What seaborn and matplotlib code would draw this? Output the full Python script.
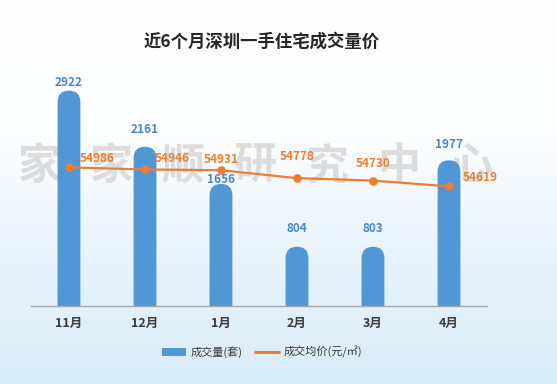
import numpy as np
import matplotlib.pyplot as plt
import seaborn as sns
from matplotlib.patches import FancyBboxPatch, Patch
from matplotlib.lines import Line2D
from matplotlib.colors import LinearSegmentedColormap

# 数据
months = ['11月', '12月', '1月', '2月', '3月', '4月']
volumes = [2922, 2161, 1656, 804, 803, 1977]
prices = [54986, 54946, 54931, 54778, 54730, 54619]

bar_color = '#5197D6'
line_color = '#ED7D31'
vol_label_color = '#4A86C4'

sns.set_theme(style='white')
plt.rcParams['font.family'] = ['Noto Sans CJK SC', 'DejaVu Sans']

fig = plt.figure(figsize=(5.57, 3.84), dpi=100)

# 背景渐变 + 水印
bg = fig.add_axes([0, 0, 1, 1], zorder=-1)
grad = np.linspace(0, 1, 256).reshape(-1, 1)
cmap_bg = LinearSegmentedColormap.from_list('bg', ['#FFFFFF', '#FDFEFF', '#E8F3FB', '#D8ECF9'])
bg.imshow(grad, aspect='auto', cmap=cmap_bg, extent=[0, 1, 0, 1], origin='upper')
bg.set_xlim(0, 1)
bg.set_ylim(0, 1)
bg.axis('off')
for i, ch in enumerate('家家顺研究中心'):
    bg.text((39 + i * 72) / 557, 1 - 166 / 384, ch, fontsize=31, color='#D5D5D5',
            ha='center', va='center', fontweight='bold', alpha=0.8)

ax = fig.add_axes([31 / 557, 78 / 384, 456 / 557, 258 / 384])
ax.patch.set_alpha(0)

sns.barplot(x=months, y=volumes, color=bar_color, width=0.3, ax=ax, saturation=1)
ax.set_ylim(0, 3500)
ax.set_xlim(-0.5, 5.5)

# 圆顶柱子
fig.canvas.draw()
bbox = ax.get_window_extent()
aspect = (bbox.width / 6) / (bbox.height / 3500)
for p in list(ax.patches):
    x0, w, h = p.get_x(), p.get_width(), p.get_height()
    ry = (w / 2) * aspect
    p.remove()
    ax.add_patch(FancyBboxPatch((x0, -ry), w, h + ry,
                                boxstyle=f'round,pad=0,rounding_size={w / 2}',
                                mutation_aspect=aspect, facecolor=bar_color,
                                edgecolor='none', zorder=2))

# 标签偏移(像素)
vol_dy = [8, 17, 4, 18, 18, 16]
for i, v in enumerate(volumes):
    ax.annotate(str(v), (i, v), xytext=(0, vol_dy[i] * 0.72), textcoords='offset points',
                ha='center', va='center', color=vol_label_color, fontsize=8.5, fontweight='bold')

ax.set_yticks([])
ax.set_ylabel('')
ax.set_xlabel('')
for s in ['top', 'right', 'left']:
    ax.spines[s].set_visible(False)
ax.spines['bottom'].set_color('#A6A6A6')
ax.spines['bottom'].set_linewidth(1)
ax.tick_params(axis='x', length=0, pad=8, labelsize=9, labelcolor='#3A3A3A')
for t in ax.get_xticklabels():
    t.set_fontweight('bold')

# 均价折线
ax2 = ax.twinx()
sns.pointplot(x=months, y=prices, color=line_color, ax=ax2, markers='o',
              markersize=5, linewidth=1.6)
ax2.set_ylim(52300, 57300)
ax2.set_xlim(-0.5, 5.5)
ax2.set_yticks([])
ax2.set_ylabel('')
for s in ax2.spines.values():
    s.set_visible(False)

price_off = [(11, 9, 'left'), (10, 11, 'left'), (0, 11, 'center'),
             (0, 22, 'center'), (0, 17, 'center'), (14, 9, 'left')]
for i, v in enumerate(prices):
    dx, dy, ha = price_off[i]
    ax2.annotate(str(v), (i, v), xytext=(dx * 0.72, dy * 0.72), textcoords='offset points',
                 ha=ha, va='center', color=line_color, fontsize=8.5, fontweight='bold')

fig.text(262 / 557, 1 - 42 / 384, '近6个月深圳一手住宅成交量价', ha='center', va='center',
         fontsize=12.5, fontweight='bold', color='#262626')

handles = [Patch(facecolor=bar_color, edgecolor='none'),
           Line2D([0], [0], color=line_color, linewidth=2.2)]
fig.legend(handles, ['成交量(套)', '成交均价(元/㎡)'], loc='center',
           bbox_to_anchor=(262 / 557, 1 - 352 / 384), ncol=2, frameon=False,
           fontsize=8, handlelength=2.2, handleheight=0.7, columnspacing=1.1,
           handletextpad=0.4, labelcolor='#3A3A3A')

fig.savefig('out.png', dpi=100)
